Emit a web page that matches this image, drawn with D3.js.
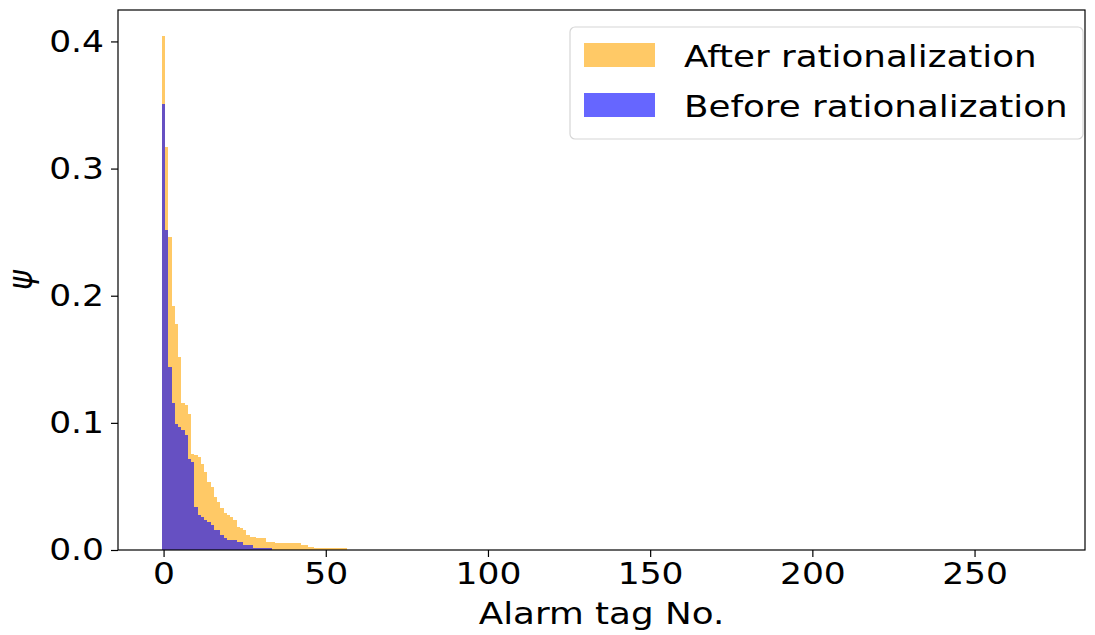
<!DOCTYPE html>
<html lang="en">
<head>
  <script src="https://d3js.org/d3.v7.min.js"></script>
  <style>
    body { margin: 0; background: white; }
    svg text { font-family: "DejaVu Sans", sans-serif; fill: black; }
  </style>
</head>
<body>
<script>
  // psi per alarm tag, sorted
  var afterVals = [0.4045, 0.317, 0.2465, 0.192, 0.178, 0.1516, 0.1158, 0.1137, 0.1067, 0.0758,
    0.0745, 0.0732, 0.068, 0.0614, 0.0536, 0.0497, 0.0418, 0.0379, 0.0327, 0.0288,
    0.0275, 0.0261, 0.0235, 0.0183, 0.017, 0.0157, 0.0118, 0.0105, 0.0105, 0.0092,
    0.0092, 0.0092, 0.0065, 0.0065, 0.0065, 0.0052, 0.0052, 0.0052, 0.0052, 0.0052,
    0.0052, 0.0052, 0.0052, 0.0039, 0.0039, 0.0026, 0.0026, 0.0013, 0.0013, 0.0013,
    0.0013, 0.0013, 0.0013, 0.0013, 0.0013, 0.0013, 0.0013];
  var beforeVals = [0.351, 0.252, 0.144, 0.116, 0.0993, 0.0967, 0.0941, 0.0902, 0.0719, 0.0693,
    0.034, 0.0275, 0.0261, 0.0235, 0.0222, 0.0196, 0.0157, 0.0157, 0.0118, 0.0092,
    0.0078, 0.0078, 0.0078, 0.0065, 0.0065, 0.0039, 0.0039, 0.0039, 0.0016, 0.0016,
    0.0016, 0.0016, 0.0016, 0.0016];
  var tagCount = 271;
  var xTicks = [0, 50, 100, 150, 200, 250];
  var yTicks = [0, 0.1, 0.2, 0.3, 0.4];
  var seriesNames = ["After rationalization", "Before rationalization"];

  var W = 1095, H = 635;
  var mLeft = 118, mRight = 1085, mTop = 10, mBottom = 550;
  var sx = 1.15, sx2 = 1.19; // text in the picture is a bit wider than normal

  var svg = d3.select("body").append("svg").attr("width", W).attr("height", H);

  var pad = tagCount * 0.05;
  var x = d3.scaleLinear().domain([-0.5 - pad, tagCount - 0.5 + pad]).range([mLeft, mRight]);
  var y = d3.scaleLinear().domain([0, 0.4045 * 1.05]).range([mBottom, mTop]);

  var orange = "rgba(255,165,0,0.6)", blue = "rgba(0,0,255,0.6)";

  function bars(vals, col) {
    svg.append("g").selectAll("rect").data(vals).enter().append("rect")
      .attr("x", function(d, i) { return x(i - 0.5); })
      .attr("width", function(d, i) { return x(i + 0.5) - x(i - 0.5); })
      .attr("y", function(d) { return y(d); })
      .attr("height", function(d) { return y(0) - y(d); })
      .attr("shape-rendering", "crispEdges")
      .attr("fill", col);
  }
  bars(afterVals, orange);
  bars(beforeVals, blue);

  // frame
  svg.append("rect").attr("x", mLeft).attr("y", mTop)
    .attr("width", mRight - mLeft).attr("height", mBottom - mTop)
    .attr("fill", "none").attr("stroke", "black").attr("stroke-width", 1.2);

  var xa = svg.append("g").attr("transform", "translate(0," + mBottom + ")")
    .call(d3.axisBottom(x).tickValues(xTicks).tickSize(7).tickPadding(6).tickFormat(d3.format("d")));
  var ya = svg.append("g").attr("transform", "translate(" + mLeft + ",0)")
    .call(d3.axisLeft(y).tickValues(yTicks).tickSize(7).tickPadding(6).tickFormat(d3.format(".1f")));
  [xa, ya].forEach(function(a) {
    a.select(".domain").remove();
    a.selectAll("line").attr("stroke", "black").attr("stroke-width", 1.2);
    a.selectAll("text").attr("font-size", 30).attr("font-family", "DejaVu Sans")
      .attr("fill", "black");
  });
  xa.selectAll("text").attr("transform", "scale(" + sx + ",1)");
  ya.selectAll("text").attr("x", -14 / sx).attr("transform", "scale(" + sx + ",1)");

  svg.append("text").attr("transform", "translate(" + ((mLeft + mRight) / 2) + ",624) scale(" + sx2 + ",1)")
    .attr("text-anchor", "middle").attr("font-size", 30).text("Alarm tag No.");
  svg.append("text").attr("transform", "translate(32,280) rotate(-90) scale(1," + sx + ")")
    .attr("text-anchor", "middle").attr("font-size", 30).attr("font-style", "italic").text("ψ");

  // legend
  var lg = svg.append("g");
  lg.append("rect").attr("x", 570).attr("y", 27).attr("width", 513).attr("height", 112)
    .attr("rx", 5).attr("fill", "rgba(255,255,255,0.8)").attr("stroke", "#d6d6d6").attr("stroke-width", 1.2);
  [orange, blue].forEach(function(c, i) {
    lg.append("rect").attr("x", 584).attr("y", 43 + i * 50).attr("width", 71).attr("height", 24).attr("fill", c);
    lg.append("text").attr("transform", "translate(684," + (66.5 + i * 50) + ") scale(" + sx2 + ",1)")
      .attr("font-size", 30).text(seriesNames[i]);
  });
</script>
</body>
</html>
